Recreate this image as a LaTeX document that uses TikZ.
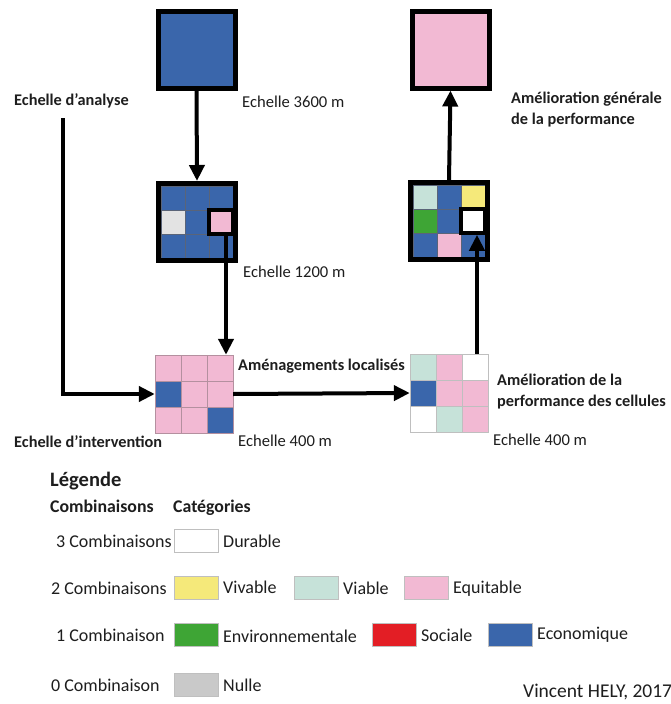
\documentclass[tikz,border=0pt]{standalone}
\usepackage{fontspec}
\setmainfont{Carlito}
\usetikzlibrary{arrows.meta}
\definecolor{eco}{HTML}{3A66AB}
\definecolor{pnk}{HTML}{F2B9D3}
\definecolor{via}{HTML}{C6E2D9}
\definecolor{viv}{HTML}{F5E97A}
\definecolor{env}{HTML}{3EA535}
\definecolor{soc}{HTML}{E31E25}
\definecolor{nul}{HTML}{C9C9C9}
\definecolor{nulc}{HTML}{E3E3E3}
\definecolor{gline}{HTML}{5A6478}
\definecolor{bline}{HTML}{B4909F}
\definecolor{txt}{HTML}{1E1E1E}
\tikzset{
  bigsq/.style={draw=black,line width=5pt,minimum size=77pt,inner sep=0pt},
  hlcell/.style={draw=black,line width=3.5pt,minimum size=24pt,inner sep=0pt},
  grid0/.style={minimum size=78pt,inner sep=0pt},
  arr/.style={line width=4pt,-{Triangle[length=16pt,width=15pt]}},
  lbl/.style={anchor=west,inner sep=0pt,text=txt,font=\fontsize{16.6}{20}\selectfont},
  blbl/.style={lbl,font=\fontsize{16.3}{20.5}\selectfont\bfseries,align=left},
  leg/.style={anchor=west,inner sep=0pt,text=txt,font=\fontsize{18}{21}\selectfont},
  legh/.style={anchor=west,inner sep=0pt,text=txt,font=\fontsize{17.8}{21}\selectfont\bfseries},
  swatch/.style={draw=black!25,line width=0.6pt,minimum width=44pt,minimum height=23pt,inner sep=0pt,anchor=west}
}
\begin{document}
\begin{tikzpicture}[x=1pt,y=-1pt]
\useasboundingbox (0,0) rectangle (670,704);
\fill[white] (0,0) rectangle (670,704);
% top squares
\node[bigsq,fill=eco] (topL) at (196.5,49.5) {};
\node[bigsq,fill=pnk] (topR) at (450.5,49.5) {};
% middle-left grid
\foreach \c [count=\i from 0] in {eco,eco,eco,nulc,eco,pnk,eco,eco,eco}{
  \pgfmathtruncatemacro\col{mod(\i,3)}
  \pgfmathtruncatemacro\row{div(\i,3)}
  \draw[fill=\c,draw=gline,line width=0.6pt] (161+24*\col,186+24*\row) rectangle +(24,24);
}
\node[bigsq] (midL) at (197,222) {};
\node[hlcell] (hlL) at (221,222) {};
% middle-right grid
\foreach \c [count=\i from 0] in {via,eco,viv,env,eco,white,eco,pnk,eco}{
  \pgfmathtruncatemacro\col{mod(\i,3)}
  \pgfmathtruncatemacro\row{div(\i,3)}
  \draw[fill=\c,draw=gline,line width=0.6pt] (413+24*\col,185+24*\row) rectangle +(24,24);
}
\node[bigsq] (midR) at (449,221) {};
\node[hlcell] (hlR) at (473,221) {};
% bottom-left grid
\foreach \c [count=\i from 0] in {pnk,pnk,pnk,eco,pnk,pnk,pnk,pnk,eco}{
  \pgfmathtruncatemacro\col{mod(\i,3)}
  \pgfmathtruncatemacro\row{div(\i,3)}
  \draw[fill=\c,draw=bline,line width=0.8pt] (155+26*\col,355+26*\row) rectangle +(26,26);
}
\node[grid0] (botL) at (194,394) {};
% bottom-right grid
\foreach \c [count=\i from 0] in {via,pnk,white,eco,pnk,pnk,white,via,pnk}{
  \pgfmathtruncatemacro\col{mod(\i,3)}
  \pgfmathtruncatemacro\row{div(\i,3)}
  \draw[fill=\c,draw=black!25,line width=0.8pt] (410+26*\col,354+26*\row) rectangle +(26,26);
}
\node[grid0] (botR) at (449,393) {};
% arrows
\coordinate (ana) at (63,118);
\draw[arr] (topL.south) -- (midL.north);
\draw[arr] ([xshift=5pt]hlL.south) -- ([xshift=5pt]hlL.south |- botL.north);
\draw[arr] (ana) |- (botL.west);
\draw[arr] (botL.east) -- (botR.west);
\draw[arr] ([xshift=4pt]hlR.south |- botR.north) -- ([xshift=4pt]hlR.south);
\draw[arr] (midR.north) -- (topR.south);
% labels
\node[blbl] (t1) at (14,101) {Echelle d’analyse};
\node[lbl] (t2) at (242,102) {Echelle 3600 m};
\node[blbl,anchor=north west] (t3) at (511,92) {Amélioration générale\\de la performance};
\node[lbl] (t4) at (243,272) {Echelle 1200 m};
\node[blbl] (t5) at (238,366) {Aménagements localisés};
\node[blbl,anchor=north west] (t6) at (497,374) {Amélioration de la\\performance des cellules};
\node[blbl] (t7) at (14,442) {Echelle d’intervention};
\node[lbl] (t8) at (238,441) {Echelle 400 m};
\node[lbl] (t9) at (493,440) {Echelle 400 m};
% legend
\node[anchor=west,inner sep=0pt,text=txt,font=\fontsize{20.5}{24}\selectfont\bfseries] (lg) at (50,481) {Légende};
\node[legh] (lc1) at (50,506) {Combinaisons};
\node[legh] (lc2) at (173,508) {Catégories};
\node[leg] (r3) at (56,541) {3 Combinaisons};
\node[swatch,fill=white] (s3) at (174,541) {};
\node[leg] (d3) at (223,541) {Durable};
\node[leg] (r2) at (51,588) {2 Combinaisons};
\node[swatch,fill=viv] (s2a) at (174,588) {};
\node[leg] (d2a) at (223,587) {Vivable};
\node[swatch,fill=via] (s2b) at (294,588) {};
\node[leg] (d2b) at (343,588) {Viable};
\node[swatch,fill=pnk] (s2c) at (404,588) {};
\node[leg] (d2c) at (453,589) {Equitable};
\node[leg] (r1) at (56,635) {1 Combinaison};
\node[swatch,fill=env] (s1a) at (174,635) {};
\node[leg] (d1a) at (223,636) {Environnementale};
\node[swatch,fill=soc] (s1b) at (372,635) {};
\node[leg] (d1b) at (421,635) {Sociale};
\node[swatch,fill=eco] (s1c) at (488,635) {};
\node[leg] (d1c) at (537,635) {Economique};
\node[leg] (r0) at (51,685) {0 Combinaison};
\node[swatch,fill=nul] (s0) at (174,685) {};
\node[leg] (d0) at (223,685) {Nulle};
\node[leg,font=\fontsize{19.5}{22}\selectfont] (auth) at (523,692) {Vincent HELY, 2017};
\end{tikzpicture}
\end{document}
